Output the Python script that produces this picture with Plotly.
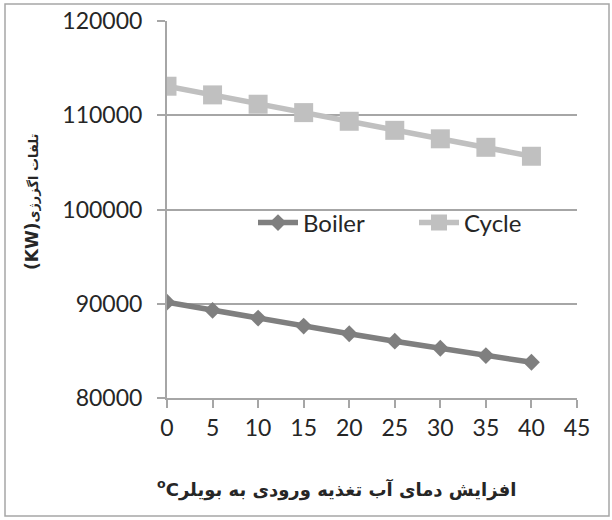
import plotly.graph_objects as go

temps = [0, 5, 10, 15, 20, 25, 30, 35, 40]
boiler = [90170, 89300, 88480, 87630, 86810, 86030, 85280, 84500, 83790]
cycle = [113080, 112160, 111170, 110280, 109360, 108400, 107500, 106600, 105650]
x_ticks = [0, 5, 10, 15, 20, 25, 30, 35, 40, 45]
y_ticks = [80000, 90000, 100000, 110000, 120000]

x_title = "<sup>o</sup>Cافزایش دمای آب تغذیه ورودی به بویلر"
y_title_unit = "(KW)"
y_title_text = "تلفات اگزرژی"

W, H = 612, 520
L, R, T, B = 167, 35, 21, 122
pw, ph = W - L - R, H - T - B

def px_x(p):
    return (p - L) / pw

def px_y(p):
    return (H - B - p) / ph

grid = "#a6a6a6"
txt = "#262626"
tick_font = dict(family="Lato, Carlito, Calibri, sans-serif", size=23, color=txt)
legend_font = dict(family="Lato, Carlito, Calibri, sans-serif", size=24, color=txt)

fig = go.Figure()
fig.add_trace(go.Scatter(
    x=temps, y=boiler, name="Boiler", mode="lines+markers",
    line=dict(color="#7f7f7f", width=5.5),
    marker=dict(symbol="diamond", size=13, color="#7f7f7f"),
))
fig.add_trace(go.Scatter(
    x=temps, y=cycle, name="Cycle", mode="lines+markers",
    line=dict(color="#c0c0c0", width=5.5),
    marker=dict(symbol="square", size=19, color="#c0c0c0"),
))

y_title = ("<b><span style='font-size:17px'>" + y_title_unit + "</span>"
           + y_title_text + "</b>")

fig.update_layout(
    width=W, height=H,
    margin=dict(l=L, r=R, t=T, b=B, pad=0, autoexpand=False),
    paper_bgcolor="white", plot_bgcolor="white",
    showlegend=True,
    legend=dict(
        orientation="h", x=px_x(253), y=px_y(223), xanchor="left", yanchor="middle",
        bgcolor="rgba(0,0,0,0)", font=legend_font, itemwidth=40, entrywidth=106,
        tracegroupgap=0,
    ),
    xaxis=dict(
        range=[0, 45], tickvals=x_ticks, ticktext=[str(v) for v in x_ticks],
        showgrid=False, zeroline=False, showline=True, linecolor=grid, linewidth=2,
        ticks="outside", ticklen=8, tickwidth=2, tickcolor=grid, tickfont=tick_font,
        automargin=False,
    ),
    yaxis=dict(
        range=[80000, 120000], tickvals=y_ticks, ticktext=[str(v) for v in y_ticks],
        showgrid=True, gridcolor=grid, gridwidth=2, zeroline=False,
        showline=True, linecolor=grid, linewidth=2,
        ticks="outside", ticklen=8, tickwidth=2, tickcolor=grid, tickfont=tick_font,
        ticklabelstandoff=10, automargin=False,
    ),
    annotations=[
        dict(text="<b>" + x_title + "</b>", xref="paper", yref="paper",
             x=px_x(336), y=px_y(488), xanchor="center", yanchor="middle",
             showarrow=False, font=dict(family="DejaVu Sans", size=18, color=txt)),
        dict(text=y_title, xref="paper", yref="paper",
             x=px_x(32), y=px_y(202), xanchor="center", yanchor="middle",
             textangle=-90, showarrow=False,
             font=dict(family="DejaVu Sans", size=13, color=txt)),
    ],
    shapes=[
        dict(type="rect", xref="paper", yref="paper",
             x0=px_x(5), x1=px_x(609), y0=px_y(4), y1=px_y(516),
             line=dict(color=grid, width=1.5), fillcolor="rgba(0,0,0,0)", layer="above"),
    ],
)

fig.write_html("out.html", config={"displayModeBar": False},
               post_script="document.body.style.margin='0';")
